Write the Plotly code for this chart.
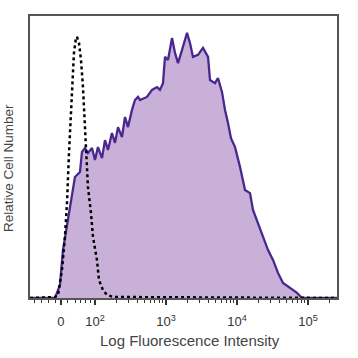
import plotly.graph_objects as go

# Positions on the biexponential display axis, expressed in decades (10^k sits at k)
stained_x = [1.085, 1.437, 1.479, 1.507, 1.549, 1.620, 1.676, 1.718, 1.789, 1.817, 1.859, 1.901,
             1.958, 2.000, 2.042, 2.099, 2.141, 2.183, 2.239, 2.282, 2.324, 2.380, 2.423, 2.465,
             2.521, 2.563, 2.606, 2.634, 2.732, 2.803, 2.873, 2.915, 2.958, 2.986, 3.028, 3.085,
             3.127, 3.169, 3.225, 3.296, 3.338, 3.380, 3.451, 3.521, 3.592, 3.620, 3.690, 3.732,
             3.789, 3.831, 3.873, 3.915, 3.972, 4.042, 4.113, 4.183, 4.225, 4.296, 4.366, 4.437,
             4.507, 4.577, 4.648, 4.746, 4.845, 4.915, 5.408]
stained_y = [0, 0, 2.8, 4.6, 17.0, 27.7, 37.2, 42.9, 44.7, 51.8, 53.2, 51.4,
             53.2, 48.9, 53.5, 49.6, 56.0, 52.5, 58.5, 55.0, 60.6, 57.1, 64.2, 60.6,
             66.7, 70.2, 71.3, 70.2, 71.3, 73.8, 74.8, 73.8, 76.2, 85.5, 84.4, 92.2,
             86.9, 83.3, 87.9, 94.0, 90.4, 85.5, 86.2, 88.7, 85.5, 77.3, 76.2, 78.0,
             73.0, 66.7, 62.1, 56.7, 53.5, 46.5, 38.3, 37.2, 31.2, 26.6, 21.6, 17.0,
             13.5, 8.9, 5.3, 3.5, 1.8, 0, 0]

isotype_x = [1.085, 1.437, 1.479, 1.535, 1.577, 1.606, 1.634, 1.662, 1.690, 1.704, 1.732, 1.746,
             1.775, 1.803, 1.831, 1.859, 1.887, 1.901, 1.944, 1.972, 2.028, 2.056, 2.113,
             2.169, 2.254, 5.408]
isotype_y = [0, 0.35, 1.0, 9.9, 21.6, 33.7, 51.4, 65.6, 77.3, 86.9, 92.2, 92.6,
             90.4, 84.4, 74.8, 60.6, 48.9, 39.4, 30.1, 21.6, 13.5, 6.4, 2.8,
             1.1, 0.35, 0]

tick_vals = [1.52, 2, 3, 4, 5]
tick_text = ["0", "10<sup>2</sup>", "10<sup>3</sup>", "10<sup>4</sup>", "10<sup>5</sup>"]
minor_vals = [1.15, 1.25, 1.35, 1.44, 1.62, 1.72, 1.80, 1.87, 1.93] + \
    [k + m for k in (2, 3, 4) for m in (0.301, 0.477, 0.602, 0.699, 0.778, 0.845, 0.903, 0.954)] + [5.301]

x_title = "Log Fluorescence Intensity"
y_title = "Relative Cell Number"

fig = go.Figure()
fig.add_trace(go.Scatter(x=stained_x, y=stained_y, mode="lines", fill="tozeroy",
                         fillcolor="rgb(201,176,216)",
                         line=dict(color="rgb(72,40,142)", width=2.3), hoverinfo="skip"))
fig.add_trace(go.Scatter(x=isotype_x, y=isotype_y, mode="lines",
                         line=dict(color="black", width=2.5, dash="dot"), hoverinfo="skip"))

axis_line = dict(showline=True, linecolor="#555", linewidth=1.5, mirror=True,
                 showgrid=False, zeroline=False)
fig.update_xaxes(range=[1.085, 5.408], tickmode="array", tickvals=tick_vals, ticktext=tick_text,
                 ticks="outside", ticklen=5, tickwidth=1.5, tickcolor="#333",
                 ticklabelstandoff=6,
                 minor=dict(tickmode="array", tickvals=minor_vals, ticks="outside",
                            ticklen=3, tickwidth=1, tickcolor="#333"),
                 tickfont=dict(family="Liberation Sans", size=13, color="#333"),
                 **axis_line)
fig.update_yaxes(range=[0, 100], showticklabels=False, ticks="", **axis_line)

fig.add_annotation(text=x_title, xref="paper", yref="paper", x=0.521, y=-0.149,
                   xanchor="center", yanchor="middle", showarrow=False,
                   font=dict(family="Liberation Sans", size=15, color="#444"))
fig.add_annotation(text=y_title, xref="paper", yref="paper", x=-0.068, y=0.461,
                   xanchor="center", yanchor="middle", showarrow=False, textangle=-90,
                   font=dict(family="Liberation Sans", size=13.5, color="#444"))

fig.update_layout(width=358, height=358, margin=dict(l=30, r=21, t=16, b=60),
                  paper_bgcolor="white", plot_bgcolor="white", showlegend=False)
fig.write_html("out.html", config={"displayModeBar": False},
               post_script="document.body.style.margin='0';")
